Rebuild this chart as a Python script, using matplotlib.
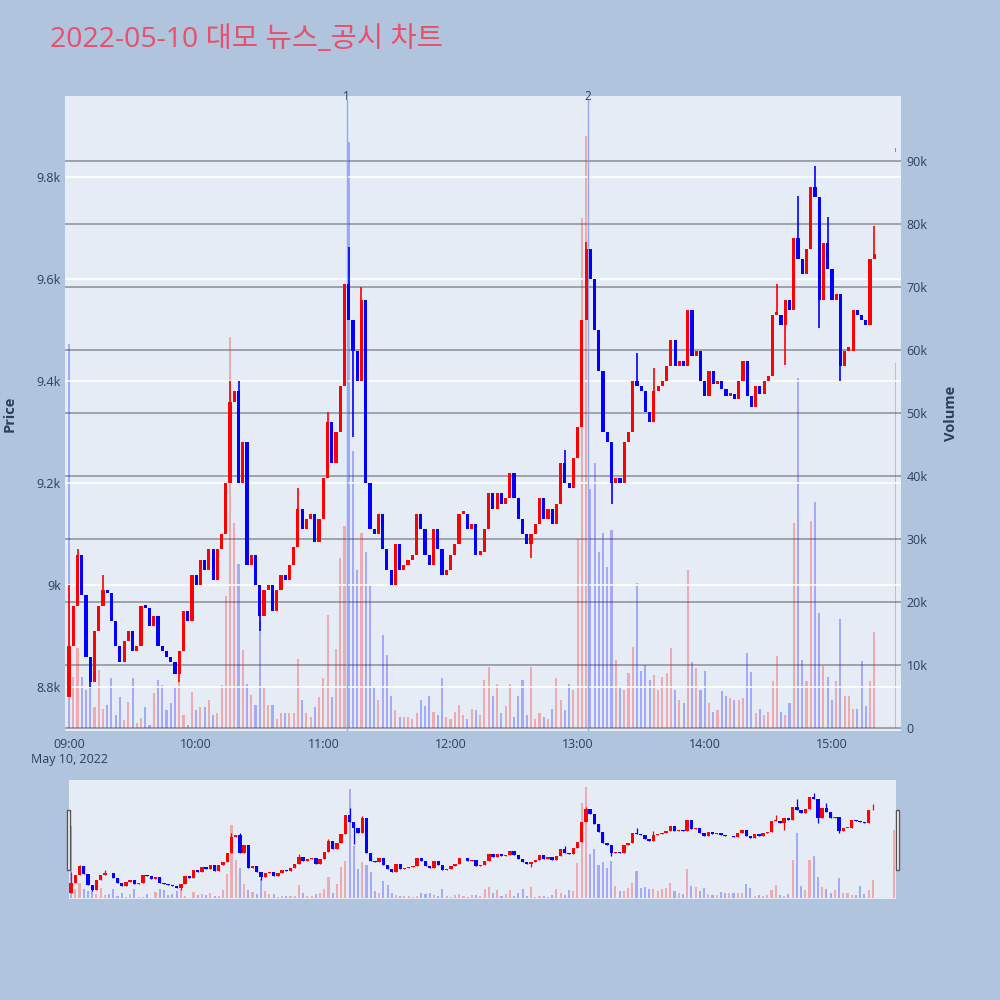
import numpy as np
import matplotlib.pyplot as plt
from matplotlib.patches import Rectangle

plt.rcParams['font.family'] = ['Open Sans', 'Noto Sans CJK KR', 'DejaVu Sans']

# 2-minute candles from 09:00 (close prices, won)
closes = [8880, 8960, 9060, 8980, 8860, 8810, 8910, 8960, 8990, 8985,
          8930, 8880, 8850, 8890, 8910, 8870, 8880, 8960, 8955, 8920,
          8940, 8880, 8870, 8860, 8850, 8825, 8870, 8950, 8930, 9020,
          9000, 9050, 9030, 9070, 9010, 9070, 9100, 9200, 9360, 9380,
          9200, 9280, 9040, 9060, 9000, 8940, 8990, 9000, 8950, 8990,
          9020, 9010, 9040, 9075, 9150, 9110, 9130, 9140, 9085, 9130,
          9210, 9320, 9240, 9300, 9390, 9590, 9520, 9460, 9400, 9560,
          9200, 9110, 9100, 9140, 9070, 9030, 9000, 9080, 9030, 9040,
          9050, 9060, 9140, 9110, 9060, 9040, 9110, 9070, 9020, 9030,
          9060, 9080, 9140, 9140, 9110, 9120, 9060, 9065, 9110, 9180,
          9150, 9180, 9160, 9170, 9220, 9170, 9130, 9100, 9080, 9100,
          9120, 9170, 9130, 9150, 9120, 9160, 9240, 9200, 9190, 9250,
          9310, 9520, 9660, 9600, 9500, 9420, 9300, 9280, 9200, 9210,
          9200, 9280, 9300, 9400, 9390, 9380, 9340, 9320, 9380, 9390,
          9400, 9430, 9480, 9430, 9440, 9430, 9540, 9450, 9460, 9400,
          9370, 9420, 9395, 9400, 9385, 9370, 9375, 9365, 9400, 9440,
          9370, 9350, 9390, 9375, 9400, 9410, 9530, 9530, 9510, 9560,
          9540, 9680, 9640, 9610, 9660, 9780, 9760, 9560, 9670, 9620,
          9560, 9570, 9430, 9460, 9460, 9540, 9530, 9520, 9510, 9640,
          9650]
first_open = 8780

# volume per 2-minute candle (thousand shares)
volumes_k = [61, 8.1, 12.7, 8.1, 6.0, 6.5, 3.4, 9.2, 3.0, 3.6,
             7.9, 2.0, 4.9, 1.3, 4.1, 7.9, 0.8, 1.6, 3.4, 0.5,
             5.5, 7.6, 6.8, 2.8, 3.9, 6.5, 7.6, 2.0, 0.5, 5.7,
             2.8, 3.4, 3.3, 4.5, 2.0, 2.4, 6.8, 21, 62, 32.5,
             26, 12.4, 7, 5.2, 3.6, 16.8, 6.5, 3.6, 3.6, 1.5,
             2.4, 2.4, 2.4, 2.4, 11, 4.5, 2.4, 1.8, 3.4, 4.9,
             8, 18, 4.9, 12.5, 27, 32, 93, 44, 25, 31,
             28, 22.5, 6.5, 4.4, 14.8, 11.6, 5, 2.8, 1.8, 1.8,
             1.8, 1.5, 2.4, 4.4, 3.5, 5, 2.5, 2, 8, 1.8,
             1.5, 2.5, 3.7, 2, 1.5, 3, 2.8, 2, 7.6, 9.7,
             5, 7, 2.4, 3.5, 7, 1.8, 5, 7.6, 2, 9.7,
             1.5, 2.4, 1.8, 1.5, 3, 8, 4.4, 2.8, 7, 6,
             30, 81, 94, 38, 42, 28, 31, 25.5, 31.4, 10.8,
             6.5, 6, 8.7, 12.9, 23, 9, 10, 7.6, 8.4, 6,
             8.1, 8.7, 12.7, 6, 4.4, 3.9, 25, 10.5, 9.5, 6,
             9, 3.9, 2.5, 2.8, 5.8, 5, 4.8, 4.5, 4.4, 4.8,
             11.9, 8.9, 2.4, 3, 2, 2.5, 7.5, 11.5, 2.5, 2,
             4, 32.5, 55.5, 10.8, 7.4, 32.8, 35.8, 18.2, 9.9, 8.1,
             4.5, 7.5, 17.3, 5, 5, 3, 3, 10.7, 3.5, 7.5,
             15.2]

# wick extremes that stick out of the bodies
high_spikes = {0: 9000, 2: 9070, 8: 9020, 38: 9400, 40: 9400, 54: 9190,
               61: 9340, 66: 9663, 69: 9584, 117: 9265, 122: 9673,
               134: 9455, 138: 9425, 167: 9590, 172: 9763, 176: 9822,
               179: 9721, 190: 9704}
low_spikes = {5: 8800, 26: 8810, 45: 8910, 67: 9290, 109: 9053,
              128: 9160, 169: 9431, 177: 9504, 182: 9400}

# 15:30 closing auction
auction_min = 390
auction_price = 9850
auction_vol_k = 58

news_min = [131, 245]
news_labels = ['1', '2']

price_ticks = [8800, 9000, 9200, 9400, 9600, 9800]
price_labels = ['8.8k', '9k', '9.2k', '9.4k', '9.6k', '9.8k']
vol_ticks = [0, 10000, 20000, 30000, 40000, 50000, 60000, 70000, 80000, 90000]
vol_labels = ['0', '10k', '20k', '30k', '40k', '50k', '60k', '70k', '80k', '90k']
time_ticks = [0, 60, 120, 180, 240, 300, 360]
time_labels = ['09:00\nMay 10, 2022', '10:00', '11:00', '12:00', '13:00', '14:00', '15:00']

# ---------------------------------------------------------------
minutes = np.arange(len(closes)) * 2
closes_a = np.array(closes, dtype=float)
opens_a = np.array([first_open] + closes[:-1], dtype=float)
volumes = np.array(volumes_k) * 1000
up = closes_a >= opens_a
cand_col = np.where(up, '#FF0000', '#0000FF')
vol_col = cand_col.copy()
vol_col[0] = '#0000FF'
highs = np.maximum(opens_a, closes_a)
lows = np.minimum(opens_a, closes_a)
for k, v in high_spikes.items():
    highs[k] = max(highs[k], v)
for k, v in low_spikes.items():
    lows[k] = min(lows[k], v)
body_h = np.maximum(np.abs(closes_a - opens_a), 6)
body_lo = np.minimum(opens_a, closes_a)

txt_col = '#2a3f5f'
bg = '#B0C4DE'
plot_bg = '#E5ECF6'
p_lim = (8714, 9959)
v_lim = (-480, 100300)


def draw(axp, axv, body_w, wick_w):
    axv.bar(minutes, volumes, width=1.0, color=vol_col, alpha=0.28, linewidth=0)
    axv.bar([auction_min], [auction_vol_k * 1000], width=0.9, color='#FF0000',
            alpha=0.28, linewidth=0)
    axp.vlines(minutes, lows, highs, colors=cand_col, linewidth=wick_w, zorder=3)
    axp.bar(minutes, body_h, bottom=body_lo, width=body_w, color=cand_col,
            linewidth=0, zorder=4)
    axp.bar([auction_min], [8], bottom=[auction_price], width=0.9,
            color='#FF6060', linewidth=0, zorder=4)


fig = plt.figure(figsize=(10, 10), dpi=100, facecolor=bg)

# main chart: price on left, volume on right
ax = fig.add_axes([0.065, 0.269, 0.836, 0.635])
ax2 = ax.twinx()
ax.set_zorder(ax2.get_zorder() + 1)
ax.patch.set_visible(False)
ax2.patch.set_visible(True)
ax2.patch.set_facecolor(plot_bg)

draw(ax, ax2, 1.5, 1.2)

for t, lab in zip(news_min, news_labels):
    ax.axvline(t, ymin=0, ymax=0.994, color='#7d97ee', alpha=0.8, linewidth=1, zorder=2)
    ax.text(t, 1.0, lab, transform=ax.get_xaxis_transform(), ha='center',
            va='center', fontsize=8.5, color=txt_col)

ax.set_xlim(-1.9, 392.6)
ax.set_ylim(*p_lim)
ax2.set_ylim(*v_lim)

ax.set_yticks(price_ticks)
ax.set_yticklabels(price_labels)
ax2.set_yticks(vol_ticks)
ax2.set_yticklabels(vol_labels)
ax.set_xticks(time_ticks)
ax.set_xticklabels(time_labels)

ax.yaxis.grid(True, color='white', linewidth=1.2)
ax2.yaxis.grid(True, color='#8a8f96', linewidth=1.1)
ax.set_axisbelow(True)
ax2.set_axisbelow(True)

for a in (ax, ax2):
    for s in a.spines.values():
        s.set_visible(False)
    a.tick_params(length=0, labelsize=9, labelcolor=txt_col)
ax.tick_params(axis='y', pad=3)
ax2.tick_params(axis='y', pad=4)
ax.tick_params(axis='x', pad=5)

ax.set_ylabel('Price', fontsize=10.5, fontweight='bold', color=txt_col, labelpad=14)
ax2.set_ylabel('Volume', fontsize=10.5, fontweight='bold', color=txt_col, labelpad=12)

fig.text(0.05, 0.960, '2022-05-10 대모 뉴스_공시 차트', fontsize=20.5,
         color='#E8506A', ha='left', va='center')

# range slider
axs = fig.add_axes([0.069, 0.101, 0.827, 0.119])
axs_p = axs.twinx()
axs_p.set_zorder(axs.get_zorder() + 1)
axs_p.patch.set_visible(False)
axs.patch.set_facecolor(plot_bg)
draw(axs_p, axs, 1.6, 0.9)
axs.set_xlim(-1, 391)
axs.set_ylim(*v_lim)
axs_p.set_ylim(*p_lim)
for a in (axs, axs_p):
    a.set_xticks([])
    a.set_yticks([])
    for s in a.spines.values():
        s.set_visible(False)

for hx in (0.0665, 0.8955):
    fig.add_artist(Rectangle((hx, 0.130), 0.0035, 0.060, transform=fig.transFigure,
                             facecolor='white', edgecolor='#555555', linewidth=1))

fig.savefig('out.png', dpi=100, facecolor=bg)
